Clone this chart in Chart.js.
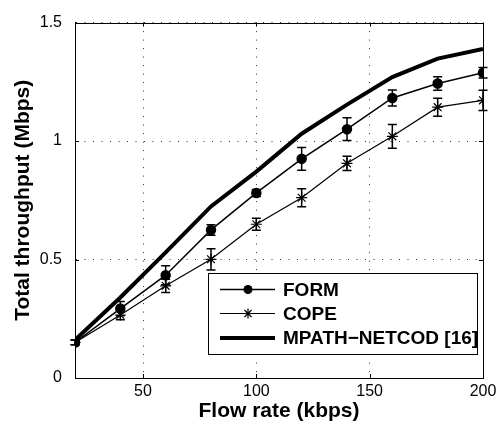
<!DOCTYPE html>
<html><head><meta charset="utf-8">
<style>html,body{margin:0;padding:0;background:#fff;}#wrap{width:503px;height:436px;}</style>
<script src="https://cdn.jsdelivr.net/npm/chart.js@4/dist/chart.umd.min.js"></script>
</head><body><div id="wrap"><canvas id="c" width="503" height="436"></canvas></div>
<script>
const flowRate = [20, 40, 60, 80, 100, 120, 140, 160, 180, 200];
const formValues = [0.15, 0.293, 0.434, 0.625, 0.781, 0.925, 1.05, 1.182, 1.243, 1.288];
const formErr = [0.01, 0.03, 0.04, 0.022, 0.015, 0.048, 0.048, 0.034, 0.028, 0.022];
const copeValues = [0.15, 0.266, 0.389, 0.501, 0.649, 0.761, 0.906, 1.02, 1.143, 1.172];
const copeErr = [0.01, 0.02, 0.028, 0.045, 0.025, 0.038, 0.03, 0.05, 0.038, 0.043];
const mpathValues = [0.16, 0.34, 0.53, 0.724, 0.871, 1.031, 1.154, 1.27, 1.348, 1.389];
const xTicks = [50, 100, 150, 200];
const yTicks = [0, 0.5, 1, 1.5];
const seriesLabels = ['FORM', 'COPE', 'MPATH\u2212NETCOD [16]'];
const xTitle = 'Flow rate (kbps)';
const yTitle = 'Total throughput (Mbps)';

const FONT = '"Liberation Sans", Arial, Helvetica, sans-serif';
const toPts = (ys) => flowRate.map((x, i) => ({x: x, y: ys[i]}));

function drawStar(ctx, x, y, r) {
  ctx.beginPath();
  for (let k = 0; k < 4; k++) {
    const a = k * Math.PI / 4;
    ctx.moveTo(x - Math.cos(a) * r, y - Math.sin(a) * r);
    ctx.lineTo(x + Math.cos(a) * r, y + Math.sin(a) * r);
  }
  ctx.stroke();
}

const errorBars = {
  id: 'errorBars',
  afterDatasetsDraw(chart) {
    const ctx = chart.ctx, xs = chart.scales.x, ys = chart.scales.y;
    ctx.save();
    ctx.strokeStyle = '#000';
    ctx.lineWidth = 1.5;
    [[formValues, formErr], [copeValues, copeErr]].forEach(([vals, errs]) => {
      flowRate.forEach((xv, i) => {
        const px = xs.getPixelForValue(xv);
        const t = ys.getPixelForValue(vals[i] + errs[i]);
        const b = ys.getPixelForValue(vals[i] - errs[i]);
        ctx.beginPath();
        ctx.moveTo(px, t); ctx.lineTo(px, b);
        ctx.moveTo(px - 4.5, t); ctx.lineTo(px + 4.5, t);
        ctx.moveTo(px - 4.5, b); ctx.lineTo(px + 4.5, b);
        ctx.stroke();
      });
    });
    ctx.restore();
  }
};

const frameAndLegend = {
  id: 'frameAndLegend',
  afterDraw(chart) {
    const ctx = chart.ctx, a = chart.chartArea, xs = chart.scales.x, ys = chart.scales.y;
    ctx.save();
    ctx.strokeStyle = '#000';
    ctx.lineWidth = 1;
    ctx.strokeRect(Math.round(a.left) + 0.5, Math.round(a.top) + 0.5, Math.round(a.right - a.left), Math.round(a.bottom - a.top));
    // inward ticks
    ctx.beginPath();
    xTicks.forEach(v => {
      const px = Math.round(xs.getPixelForValue(v)) + 0.5;
      ctx.moveTo(px, a.bottom); ctx.lineTo(px, a.bottom - 4);
      ctx.moveTo(px, a.top); ctx.lineTo(px, a.top + 4);
    });
    yTicks.forEach(v => {
      const py = Math.round(ys.getPixelForValue(v)) + 0.5;
      ctx.moveTo(a.left, py); ctx.lineTo(a.left + 4, py);
      ctx.moveTo(a.right, py); ctx.lineTo(a.right - 4, py);
    });
    ctx.stroke();

    // legend
    const bx = 208, by = 273, bw = 269, bh = 81;
    ctx.fillStyle = '#fff';
    ctx.fillRect(bx, by, bw, bh);
    ctx.strokeStyle = '#000';
    ctx.lineWidth = 1;
    ctx.strokeRect(bx + 0.5, by + 0.5, bw, bh);
    const rows = [289.5, 313.5, 338];
    const lws = [1.5, 1.2, 4];
    ctx.font = 'bold 19px ' + FONT;
    ctx.textBaseline = 'middle';
    ctx.textAlign = 'left';
    chart.data.datasets.forEach((ds, i) => {
      const y = rows[i];
      ctx.strokeStyle = '#000';
      ctx.lineWidth = lws[i];
      ctx.beginPath(); ctx.moveTo(220, y); ctx.lineTo(275, y); ctx.stroke();
      if (i === 0) {
        ctx.fillStyle = '#000';
        ctx.beginPath(); ctx.arc(248, y, 4.5, 0, Math.PI * 2); ctx.fill();
      } else if (i === 1) {
        ctx.lineWidth = 1.2;
        drawStar(ctx, 248, y, 5);
      }
      ctx.fillStyle = '#000';
      ctx.fillText(ds.label, 283, y + 1);
    });
    ctx.restore();
  }
};

new Chart(document.getElementById('c'), {
  type: 'line',
  data: {
    datasets: [
      {label: seriesLabels[0], data: toPts(formValues), borderColor: '#000', backgroundColor: '#000',
       borderWidth: 1.5, pointStyle: 'circle', pointRadius: 4.5, pointBackgroundColor: '#000', pointBorderColor: '#000', tension: 0},
      {label: seriesLabels[1], data: toPts(copeValues), borderColor: '#000', backgroundColor: '#000',
       borderWidth: 1.2, pointStyle: 'star', pointRadius: 5.5, pointBorderWidth: 1.2, pointBorderColor: '#000', tension: 0},
      {label: seriesLabels[2], data: toPts(mpathValues), borderColor: '#000', backgroundColor: '#000',
       borderWidth: 4, pointRadius: 0, tension: 0}
    ]
  },
  options: {
    responsive: false,
    animation: false,
    layout: {padding: {top: 13, right: 20, bottom: 0, left: 0}},
    plugins: {legend: {display: false}, tooltip: {enabled: false}},
    scales: {
      x: {
        type: 'linear', min: 20, max: 200,
        afterBuildTicks: s => { s.ticks = xTicks.map(v => ({value: v})); },
        afterFit: s => { s.height = 58; },
        grid: {color: '#333', lineWidth: 1, drawTicks: false},
        border: {display: true, color: '#000', dash: [1, 7.5]},
        ticks: {color: '#000', padding: 4, font: {family: FONT, size: 16}, maxRotation: 0, callback: v => String(v)},
        title: {display: true, text: xTitle, color: '#000', font: {family: FONT, size: 21, weight: 'bold'}, padding: {top: 0, bottom: 12}}
      },
      y: {
        type: 'linear', min: 0, max: 1.5,
        afterBuildTicks: s => { s.ticks = yTicks.map(v => ({value: v})); },
        afterFit: s => { s.width = 75; },
        grid: {color: '#333', lineWidth: 1, drawTicks: false},
        border: {display: true, color: '#000', dash: [1, 7.5]},
        ticks: {color: '#000', padding: 13, font: {family: FONT, size: 16}, callback: v => String(v)},
        title: {display: true, text: yTitle, color: '#000', font: {family: FONT, size: 21, weight: 'bold'}, padding: {top: 11, bottom: 0}}
      }
    }
  },
  plugins: [errorBars, frameAndLegend]
});
</script>
</body></html>
